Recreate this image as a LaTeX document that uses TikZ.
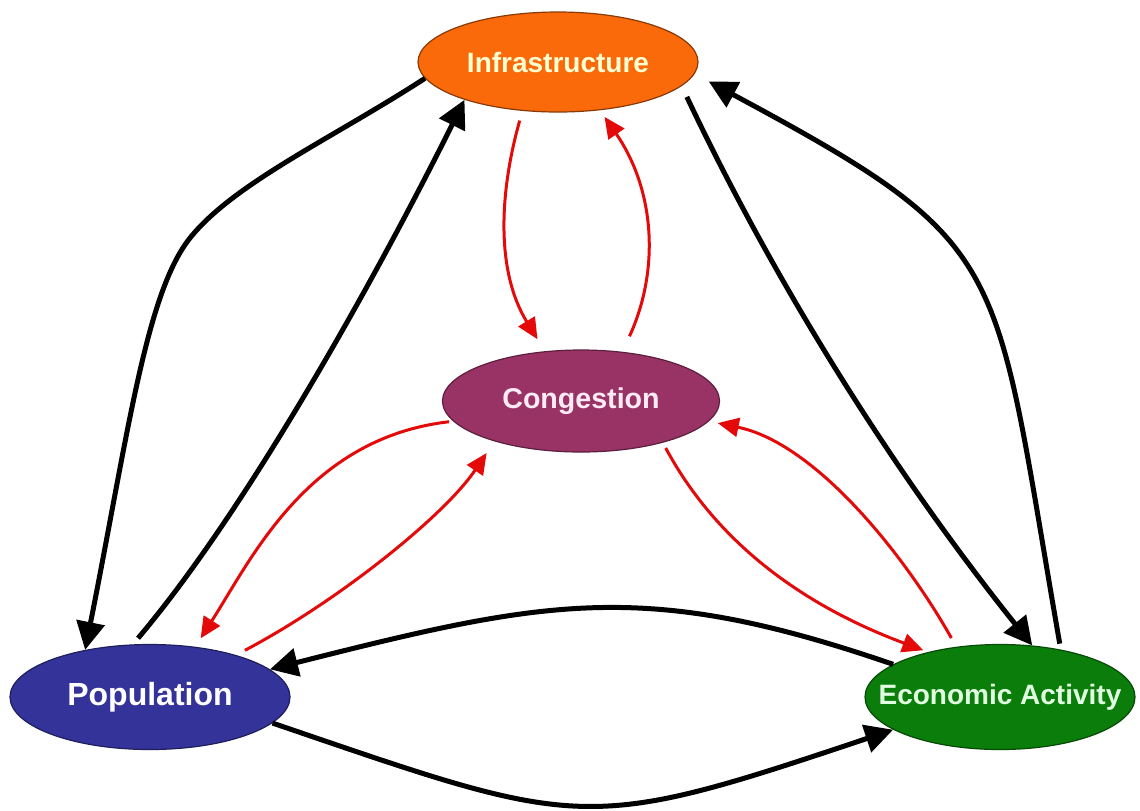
\documentclass[tikz,border=0pt]{standalone}
\usepackage{fontspec}
\setmainfont{Liberation Sans}
\usetikzlibrary{shapes.geometric,arrows.meta}
\definecolor{infraC}{RGB}{250,105,10}
\definecolor{congC}{RGB}{153,51,102}
\definecolor{popC}{RGB}{51,51,153}
\definecolor{econC}{RGB}{10,125,10}
\definecolor{infraT}{RGB}{255,255,210}
\definecolor{congT}{RGB}{255,235,245}
\definecolor{econT}{RGB}{225,255,225}
\definecolor{redC}{RGB}{228,10,10}
\newcommand{\zw}[1]{\makebox[0pt][c]{#1}}
\begin{document}
\begin{tikzpicture}[x=0.5pt,y=-0.5pt,
  el/.style={ellipse, inner sep=0pt, line width=0.6pt, font=\bfseries\fontsize{14}{16}\selectfont},
  blk/.style={draw=black, line width=2.5pt, -{Triangle[length=14pt,width=14pt]}},
  rd/.style={draw=redC, line width=1.5pt, -{Triangle[length=10.5pt,width=9.5pt]}}]
\useasboundingbox (0,0) rectangle (1140,810);
\fill[white] (0,0) rectangle (1140,810);

\node[el, fill=infraC, draw=infraC!55!black, minimum width=140pt, minimum height=50pt, text=infraT] (infra) at (558,62) {\zw{Infrastructure}};
\node[el, fill=congC, draw=congC!60!black, minimum width=138.5pt, minimum height=51pt, text=congT, font=\bfseries\fontsize{14.3}{16}\selectfont] (cong) at (581,401) {\zw{Congestion}};
\node[el, fill=popC, draw=popC!60!black, minimum width=140pt, minimum height=52.5pt, text=white, font=\bfseries\fontsize{16}{18}\selectfont] (pop) at (150,697) {\zw{Population}};
\node[el, fill=econC, draw=econC!60!black, minimum width=135pt, minimum height=52.5pt, text=econT] (econ) at (1000,697) {\zw{Economic Activity}};

% black connectors
\draw[blk] (infra.187) .. controls (333,138) and (234,183) .. (190,238)
  .. controls (146,293) and (128,434) .. (pop.144);
\draw[blk, shorten <=4pt] (pop.108) .. controls (255,500) and (390,250) .. (infra.202);
\draw[blk, shorten <=6pt] (infra.-11) .. controls (772,277) and (888,465) .. (econ.58);
\draw[blk, shorten <=3pt, shorten >=8pt] (econ.38) .. controls (992,256) and (1015,246) .. (infra.-5);
\draw[blk] (econ.163) .. controls (645,579) and (548,599) .. (pop.13);
\draw[blk] (pop.-12) .. controls (583,829) and (582,834) .. (econ.197);

% red connectors
\draw[rd, shorten <=5pt, shorten >=7pt] (infra.234) .. controls (500,190) and (495,270) .. (cong.126);
\draw[rd, shorten <=8.5pt, shorten >=4pt] (cong.50) .. controls (660,270) and (655,190) .. (infra.-49);
\draw[rd, shorten <=2pt, shorten >=5pt] (cong.189) .. controls (308,438) and (252,558) .. (pop.48);
\draw[rd, shorten <=5pt, shorten >=7pt] (pop.26) .. controls (340,600) and (445,515) .. (cong.205);
\draw[rd, shorten <=3pt, shorten >=2.5pt] (cong.-27) .. controls (721,551) and (815,610) .. (econ.148);
\draw[rd, shorten <=5pt, shorten >=4.5pt] (econ.131) .. controls (904,554) and (815,443) .. (cong.-9);
\end{tikzpicture}
\end{document}
